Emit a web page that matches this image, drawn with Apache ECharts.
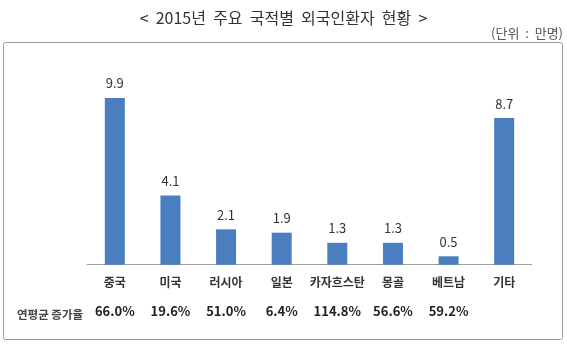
<!DOCTYPE html>
<html>
<head>
<meta charset="utf-8">
<script src="https://cdn.jsdelivr.net/npm/echarts@6/dist/echarts.min.js"></script>
<style>
  html, body { margin: 0; padding: 0; background: #ffffff; }
  #chart { width: 567px; height: 349px; }
</style>
</head>
<body>
<div id="chart"></div>
<script>
// 2015 foreign patients by nationality (unit: 10,000 persons)
const categories = ['중국', '미국', '러시아', '일본', '카자흐스탄', '몽골', '베트남', '기타'];
const patients = [9.9, 4.1, 2.1, 1.9, 1.3, 1.3, 0.5, 8.7];
// average annual growth rate per nationality (none for 기타)
const growthRates = ['66.0%', '19.6%', '51.0%', '6.4%', '114.8%', '56.6%', '59.2%', ''];

const titleText = '<  2015년  주요  국적별  외국인환자  현황  >';
const unitText = '(단위  :  만명)';
const growthHeader = '연평균 증가율';

const FONT = '"Noto Sans CJK KR", "Noto Sans", sans-serif';

const chart = echarts.init(document.getElementById('chart'), null, { renderer: 'canvas' });

chart.setOption({
  animation: false,
  backgroundColor: '#ffffff',
  textStyle: { fontFamily: FONT },
  graphic: [
    {
      type: 'rect',
      shape: { x: 3.5, y: 42.5, width: 559, height: 297, r: 2 },
      style: { fill: 'none', stroke: '#9a9a9a', lineWidth: 1 },
      silent: true
    },
    {
      type: 'text',
      x: 283.5, y: 17.5,
      style: {
        text: titleText, fontSize: 16, fill: '#333333', fontFamily: FONT,
        align: 'center', verticalAlign: 'middle'
      }
    },
    {
      type: 'text',
      x: 563, y: 33,
      style: {
        text: unitText, fontSize: 13, fill: '#555555', fontFamily: FONT,
        align: 'right', verticalAlign: 'middle'
      }
    },
    {
      type: 'text',
      x: 17, y: 315,
      style: {
        text: growthHeader, fontSize: 11.5, fill: '#444444', fontFamily: FONT,
        fontWeight: 'bold', align: 'left', verticalAlign: 'middle'
      }
    }
  ],
  grid: { left: 87, right: 35, top: 62.5, height: 202.2, containLabel: false },
  xAxis: {
    type: 'category',
    data: categories,
    axisLine: { lineStyle: { color: '#a0a0a0', width: 1 } },
    axisTick: { show: false },
    axisLabel: {
      interval: 0,
      margin: 22,
      formatter: function (value, idx) {
        return '{c|' + value + '}\n{g|' + (growthRates[idx] || ' ') + '}';
      },
      rich: {
        c: { fontSize: 12, fontWeight: 'bold', color: '#333333', fontFamily: FONT, lineHeight: 16, padding: [0, 0, 25, 0] },
        g: { fontSize: 13, fontWeight: 'bold', color: '#222222', fontFamily: FONT, lineHeight: 16 }
      }
    }
  },
  yAxis: {
    type: 'value',
    min: 0,
    max: 12,
    show: false,
    splitLine: { show: false }
  },
  series: [
    {
      type: 'bar',
      data: patients,
      barWidth: 20,
      itemStyle: { color: '#4a7ebf' },
      label: {
        show: true,
        position: 'top',
        distance: 8,
        fontSize: 13,
        color: '#333333',
        fontFamily: FONT,
        formatter: function (p) { return p.value.toFixed(1); }
      }
    }
  ]
});
</script>
</body>
</html>
